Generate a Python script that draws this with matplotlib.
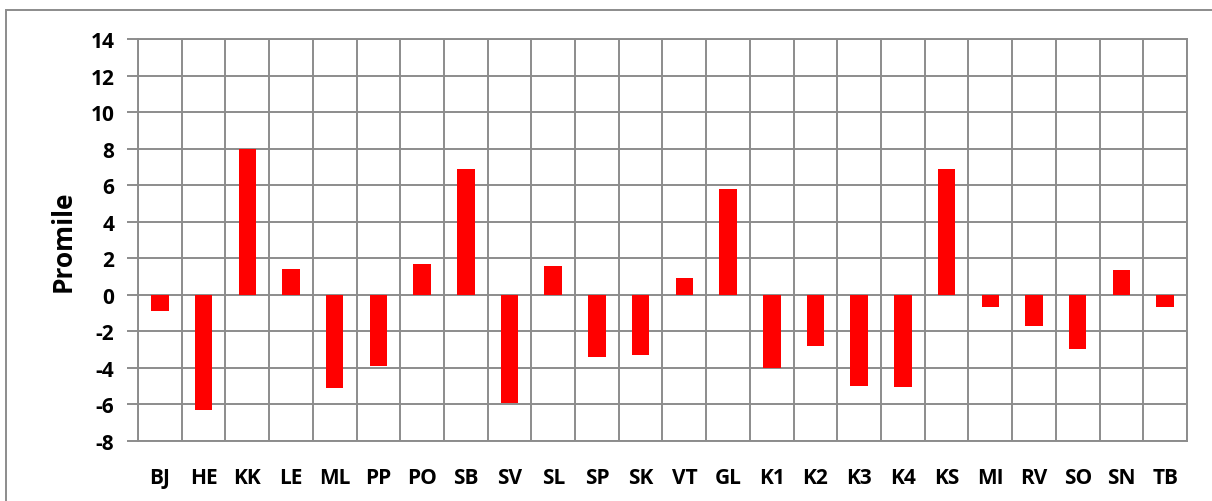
import matplotlib
matplotlib.use("Agg")
from matplotlib import pyplot as plt
from matplotlib.patches import Rectangle
import numpy as np

plt.rcParams['font.family'] = ['Open Sans', 'DejaVu Sans']

stations = ['BJ', 'HE', 'KK', 'LE', 'ML', 'PP', 'PO', 'SB', 'SV', 'SL', 'SP', 'SK',
            'VT', 'GL', 'K1', 'K2', 'K3', 'K4', 'KS', 'MI', 'RV', 'SO', 'SN', 'TB']
promile = [-0.9, -6.3, 8.0, 1.4, -5.1, -3.9, 1.7, 6.9, -5.9, 1.6, -3.4, -3.3,
           0.9, 5.8, -4.0, -2.8, -5.0, -5.05, 6.9, -0.65, -1.7, -2.95, 1.35, -0.65]
yticks = [-8, -6, -4, -2, 0, 2, 4, 6, 8, 10, 12, 14]

W, H = 1212, 502
fig = plt.figure(figsize=(W / 100, H / 100), dpi=100)
ax = fig.add_axes([138 / W, 1 - 442 / H, (1187 - 138) / W, (442 - 40) / H])

grid_c = '#8c8c8c'
x = np.arange(len(stations))
ax.bar(x, promile, width=0.40, color='#ff0000', zorder=3)

ax.set_xlim(-0.5, len(stations) - 0.5)
ax.set_ylim(-8, 14)
ax.set_yticks(yticks)
ax.set_yticklabels([str(v) for v in yticks], fontsize=15, fontweight='bold')
ax.set_xticks(x)
ax.set_xticklabels(stations, fontsize=15, fontweight='bold')

# vertical grid sits between categories
for b in np.arange(-0.5, len(stations) + 0.5, 1):
    ax.axvline(b, color=grid_c, lw=1.4, zorder=1)
ax.yaxis.grid(True, color=grid_c, lw=1.4, zorder=1)
ax.set_axisbelow(True)

for s in ax.spines.values():
    s.set_color(grid_c)
    s.set_linewidth(1.4)

ax.tick_params(axis='x', length=0, pad=19)
ax.tick_params(axis='y', length=8, width=1.4, color=grid_c, pad=9)

ax.set_ylabel('Promile', fontsize=19, fontweight='bold', labelpad=10)

# outer chart frame, partly cut off by the image edge
fig.patches.append(Rectangle((6 / W, -0.1), 1.1, 1 - 11 / H + 0.1, transform=fig.transFigure,
                             fill=False, edgecolor=grid_c, lw=1.4, clip_on=False))

fig.savefig('out.png', dpi=100)
